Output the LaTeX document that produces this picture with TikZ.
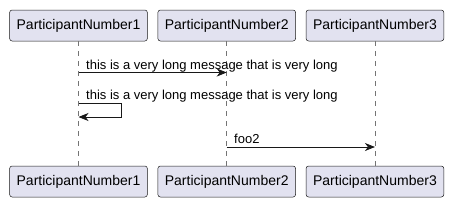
\documentclass[tikz,border=0pt]{standalone}
\usepackage{fontspec}
\setmainfont{Liberation Sans}
\usetikzlibrary{arrows.meta,positioning}
\definecolor{umlfill}{RGB}{226,226,240}
\definecolor{umlline}{RGB}{24,24,24}

\begin{document}
\begin{tikzpicture}[x=1pt, y=-1pt, node distance=10pt]
    \tikzstyle{part}=[draw=umlline, fill=umlfill, rounded corners=2.5pt, line width=0.5pt, minimum height=31pt, inner xsep=7pt, font=\fontsize{14}{16}\selectfont]
    \tikzstyle{life}=[umlline!60, line width=0.5pt, dash pattern=on 5pt off 5pt]
    \tikzstyle{msg}=[umlline, line width=0.8pt, -{Stealth[length=10pt, width=8pt, inset=3pt]}]
    \tikzstyle{lbl}=[anchor=base west, inner sep=0pt, font=\fontsize{13}{15}\selectfont]
    \useasboundingbox (0,0) rectangle (453,207);
    % Participants, top and bottom
    \node[part] (p1) at (78.5,25.5) {ParticipantNumber1};
    \node[part, right=of p1] (p2) {ParticipantNumber2};
    \node[part, right=of p2] (p3) {ParticipantNumber3};
    \node[part] (p1end) at (78.5,181.5) {ParticipantNumber1};
    \node[part, right=of p1end] (p2end) {ParticipantNumber2};
    \node[part, right=of p2end] (p3end) {ParticipantNumber3};
    % Lifelines
    \draw[life] (p1.south) -- (p1end.north);
    \draw[life] (p2.south) -- (p2end.north);
    \draw[life] (p3.south) -- (p3end.north);
    % Messages
    \coordinate (m1a) at (p1.south |- 0,72.5);
    \coordinate (m1b) at (p2.south |- 0,72.5);
    \draw[msg] (m1a) -- (m1b);
    \node[lbl] (t1) at (86,69) {this is a very long message that is very long};
    \coordinate (s1a) at (p1.south |- 0,103);
    \coordinate (s1b) at (p1.south |- 0,117);
    \draw[msg] (s1a) -- ++(43,0) |- (s1b);
    \node[lbl] (t2) at (86,99) {this is a very long message that is very long};
    \coordinate (m2a) at (p2.south |- 0,147);
    \coordinate (m2b) at (p3.south |- 0,147);
    \draw[msg] (m2a) -- (m2b);
    \node[lbl] (t3) at (234,143.5) {foo2};
\end{tikzpicture}
\end{document}
